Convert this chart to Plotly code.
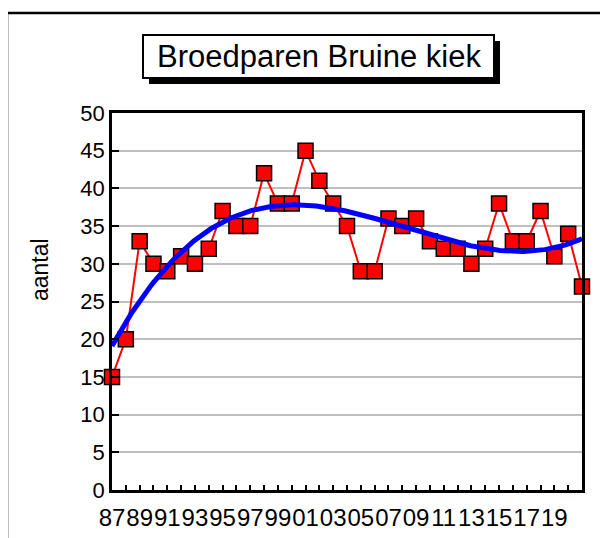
import numpy as np
import plotly.graph_objects as go

years = list(range(1987, 2022))
pairs = [15, 20, 33, 30, 29, 31, 30, 32, 37, 35, 35, 42, 38, 38, 45, 41, 38, 35,
         29, 29, 36, 35, 36, 33, 32, 32, 30, 32, 38, 33, 33, 37, 31, 34, 27]
tick_years = list(range(1987, 2020, 2))
tick_labels = [f"{y % 100:02d}" for y in tick_years]
y_ticks = list(range(0, 51, 5))

# polynomial trendline (3rd order) computed from the data
coef = np.polyfit(np.array(years) - 2004, pairs, 3)
xs = np.linspace(years[0], years[-1], 300)
ys = np.polyval(coef, xs - 2004)

# page has an 8px body margin; positions below are in page pixels
OFF = 8
W, H = 608, 538
L, R, T, B = 112, 582, 113, 490
pw, ph = R - L, B - T

def px(x):
    return (x - L) / pw

def py(y):
    return (B - y) / ph

fig = go.Figure()
fig.add_trace(go.Scatter(x=years, y=pairs, mode="lines+markers",
                         line=dict(color="#ff0000", width=2),
                         marker=dict(symbol="square", size=15, color="#ff0000",
                                     line=dict(color="black", width=1.5)),
                         cliponaxis=False, showlegend=False))
fig.add_trace(go.Scatter(x=xs, y=ys, mode="lines",
                         line=dict(color="#0000ff", width=5),
                         cliponaxis=False, showlegend=False))

font = "Liberation Sans, Arial, sans-serif"
shapes = [
    dict(type="rect", xref="paper", yref="paper", x0=px(7), x1=px(640), y0=py(13), y1=py(580),
         line=dict(color="black", width=2.5), layer="below"),
    dict(type="rect", xref="paper", yref="paper", x0=px(149), x1=px(500), y0=py(41), y1=py(84),
         fillcolor="black", line=dict(width=0)),
    dict(type="rect", xref="paper", yref="paper", x0=px(143), x1=px(494), y0=py(35), y1=py(78),
         fillcolor="white", line=dict(color="black", width=2)),
]
annotations = [
    dict(text="Broedparen Bruine kiek", xref="paper", yref="paper", x=px(318.5), y=py(57),
         showarrow=False, font=dict(family=font, size=31, color="black"),
         xanchor="center", yanchor="middle"),
    dict(text="aantal", xref="paper", yref="paper", x=px(40), y=py(270), textangle=-90,
         showarrow=False, font=dict(family=font, size=23, color="black"),
         xanchor="center", yanchor="middle"),
]

fig.update_layout(
    width=W, height=H,
    margin=dict(l=L - OFF, r=W - (R - OFF), t=T - OFF, b=H - (B - OFF)),
    paper_bgcolor="white", plot_bgcolor="white",
    shapes=shapes, annotations=annotations, showlegend=False,
    font=dict(family=font, color="black"),
)
fig.update_xaxes(range=[years[0], years[-1]], tickmode="array", tickvals=tick_years,
                 ticktext=tick_labels, ticks="inside", ticklen=5, tickwidth=1.5, tickcolor="black",
                 minor=dict(tickmode="linear", dtick=1, tick0=1987, ticks="inside", ticklen=5,
                            tickwidth=1.5, tickcolor="black", showgrid=False),
                 showgrid=False, showline=True, mirror=True, linecolor="black", linewidth=2.5,
                 ticklabelstandoff=4, tickangle=0, automargin=False,
                 tickfont=dict(family=font, size=24, color="black"), zeroline=False)
fig.update_yaxes(range=[0, 50], tickmode="array", tickvals=y_ticks,
                 ticks="inside", ticklen=7, tickwidth=1.5, tickcolor="black",
                 showgrid=True, gridcolor="#c0c0c0", gridwidth=2, automargin=False,
                 showline=True, mirror=True, linecolor="black", linewidth=2.5,
                 tickfont=dict(family=font, size=22, color="black"), zeroline=False)

fig.write_html("out.html")
